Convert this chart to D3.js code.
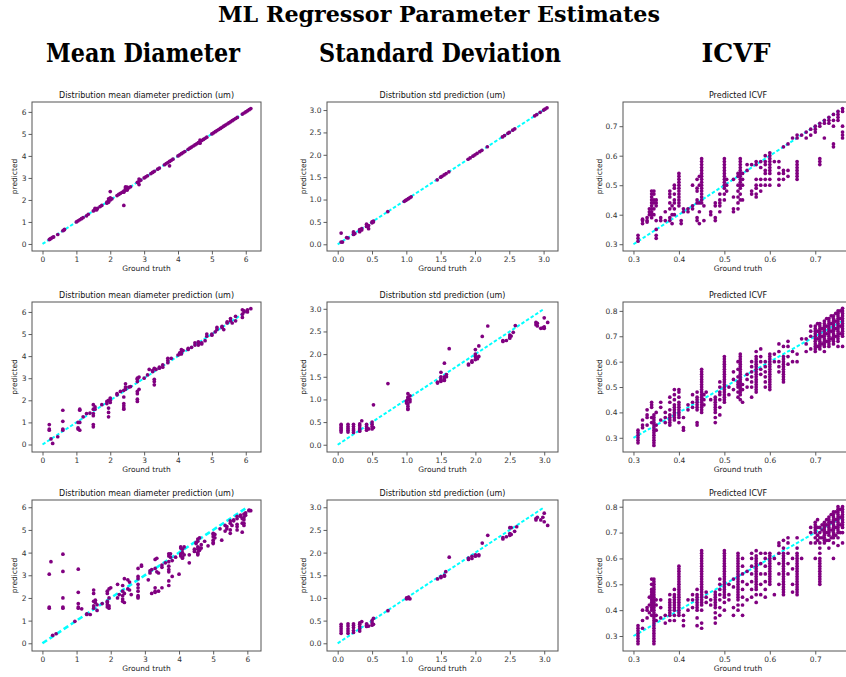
<!DOCTYPE html>
<html><head><meta charset="utf-8">
<script src="https://cdn.jsdelivr.net/npm/d3@7"></script>
<style>body{margin:0;background:#fff}</style>
</head><body><svg id="c" width="846" height="677"></svg>
<script>
// ---------- DATA: groups of [ground truth, [predictions...]] ----------
const md1 = [[0.2,[0.2]],[0.22,[0.22]],[0.25,[0.25]],[0.3,[0.3]],[0.33,[0.32]],[0.45,[0.43]],[0.6,[0.6]],[0.63,[0.63]],[0.65,[0.66]],[1.0,[1.0]],[1.05,[1.05]],[1.1,[1.1]],[1.15,[1.15]],[1.2,[1.2]],[1.3,[1.28]],[1.35,[1.35]],[1.5,[1.5]],[1.55,[1.55,1.62]],[1.58,[1.58]],[1.6,[1.6,1.55]],[1.62,[1.62]],[1.7,[1.7]],[1.75,[1.75]],[1.9,[1.9,1.85]],[1.95,[1.95,1.9,2.05]],[2.0,[2.0,2.1,2.38]],[2.05,[2.05]],[2.2,[2.2]],[2.25,[2.25]],[2.3,[2.3]],[2.35,[2.35]],[2.4,[2.4,2.35,1.75]],[2.45,[2.45,2.6,2.5,2.55]],[2.5,[2.5,2.45,2.58]],[2.55,[2.55]],[2.6,[2.6]],[2.8,[2.8]],[2.85,[2.85,2.95,2.7]],[2.9,[2.9]],[3.0,[3.0]],[3.05,[3.05]],[3.1,[3.1]],[3.2,[3.2]],[3.25,[3.25]],[3.3,[3.3]],[3.4,[3.4]],[3.45,[3.45]],[3.6,[3.6]],[3.65,[3.65]],[3.7,[3.7]],[3.75,[3.75,3.55]],[3.8,[3.8]],[3.85,[3.85]],[4.0,[4.0]],[4.05,[4.05]],[4.1,[4.1]],[4.15,[4.15]],[4.2,[4.2]],[4.3,[4.3]],[4.35,[4.35]],[4.4,[4.4]],[4.45,[4.45]],[4.5,[4.5]],[4.55,[4.55]],[4.6,[4.6]],[4.65,[4.65,4.58,4.72]],[4.7,[4.7]],[4.75,[4.75]],[4.8,[4.8]],[4.85,[4.85]],[5.0,[5.0]],[5.05,[5.05]],[5.1,[5.1]],[5.15,[5.15]],[5.2,[5.2]],[5.25,[5.25]],[5.3,[5.3]],[5.35,[5.35]],[5.4,[5.4]],[5.45,[5.45]],[5.5,[5.5]],[5.55,[5.55]],[5.6,[5.6]],[5.65,[5.65]],[5.7,[5.7]],[5.75,[5.75]],[5.9,[5.9]],[5.95,[5.95]],[6.0,[6.0]],[6.05,[6.05]],[6.1,[6.1]],[6.15,[6.15]]];

const md2 = [[0.2,[0.9,0.7,0.65]],[0.25,[0.25]],[0.3,[0.05]],[0.45,[0.35]],[0.6,[1.55,1.05,0.7,0.65]],[1.05,[1.0,0.75,0.7]],[1.1,[1.6,1.55,1.0,0.65]],[1.2,[1.25]],[1.3,[1.4]],[1.4,[1.42]],[1.5,[1.8,1.6,1.4,1.3,0.9,0.8]],[1.55,[1.7,1.6]],[1.75,[1.8]],[1.9,[1.95,1.85]],[1.95,[2.0,1.65,1.45,1.25]],[2.0,[2.1,2.0,1.9]],[2.2,[2.25,2.3]],[2.3,[2.4]],[2.4,[2.45,2.15,1.85,1.75,1.65,1.6]],[2.45,[2.75,2.6,2.5]],[2.55,[2.6]],[2.6,[2.62]],[2.8,[3.0,2.95,2.85,2.4,2.3,2.05,1.95]],[2.85,[3.05,2.5]],[3.0,[3.0]],[3.1,[3.15]],[3.15,[3.4]],[3.25,[3.35,3.3]],[3.3,[3.45,2.95,2.85,2.7]],[3.35,[3.4]],[3.45,[3.45,3.5]],[3.55,[3.6,3.5]],[3.7,[3.9,3.8,3.7]],[3.8,[3.9]],[4.0,[4.05]],[4.05,[4.1,4.15]],[4.1,[4.3,4.2,4.1]],[4.15,[4.25]],[4.3,[4.3,4.35]],[4.4,[4.4]],[4.5,[4.6,4.5]],[4.6,[4.65,4.6,4.5]],[4.7,[4.6,4.55]],[4.8,[4.7]],[4.85,[5.0,4.9]],[5.0,[5.0,4.95]],[5.1,[5.1]],[5.15,[5.3,5.2]],[5.3,[5.35,5.3]],[5.35,[5.2]],[5.45,[5.55,5.5]],[5.55,[5.7,5.6]],[5.6,[5.5]],[5.7,[5.8,5.6]],[5.9,[6.1,5.9,5.75]],[5.95,[6.05,6.0]],[6.05,[6.1,6.0]],[6.15,[6.15]]];

const md3 = [[0.2,[3.05,1.6,1.55]],[0.25,[3.6]],[0.3,[0.35]],[0.4,[0.42]],[0.6,[3.93,3.17,2.0,1.6,1.55]],[0.95,[0.97]],[1.05,[3.27,2.25,1.75,1.6,1.55]],[1.15,[1.52]],[1.3,[1.27,1.3]],[1.4,[1.27]],[1.5,[2.35,2.2,1.85,1.65,1.55]],[1.55,[1.8,1.9]],[1.6,[1.45,1.7]],[1.75,[1.75]],[1.9,[2.3,2.2,1.85,1.8,1.7,1.6]],[1.95,[2.4,2.0,1.65,1.55]],[2.0,[2.45]],[2.2,[2.6,2.0]],[2.25,[2.15]],[2.35,[2.55,2.3,2.1,1.95,1.85]],[2.4,[2.85,2.2,1.8]],[2.5,[2.8,2.4]],[2.55,[2.7,2.35]],[2.6,[2.15]],[2.8,[3.3,2.95,2.85,2.6,2.45,2.3,2.1,2.05,2.0]],[2.9,[3.45,3.4]],[3.1,[2.8]],[3.15,[3.2,3.1]],[3.2,[2.2,3.25]],[3.3,[3.7,3.3,2.45,2.3,2.25]],[3.35,[3.75,3.15]],[3.4,[3.1,2.3]],[3.5,[3.45,3.35,2.45]],[3.6,[3.55]],[3.7,[3.95,3.85,3.6,3.4,3.25,3.15,2.75,2.55]],[3.75,[3.95,3.8]],[3.8,[2.95,3.65]],[3.9,[3.8]],[4.0,[3.05]],[4.05,[4.25,4.2,3.95,3.9,3.85]],[4.1,[4.15,3.8,3.75,4.0]],[4.15,[4.25,3.9]],[4.3,[3.55,3.9]],[4.45,[4.05,4.15]],[4.5,[4.4,4.45]],[4.55,[4.6,4.5,4.25,4.15,4.0,3.95,3.9]],[4.6,[4.65,4.2,4.1]],[4.65,[4.35,4.2]],[4.75,[4.5]],[4.85,[4.3]],[5.0,[4.85,4.8,4.7,4.55,4.45,4.4]],[5.05,[4.8,4.65]],[5.2,[5.05]],[5.25,[4.55]],[5.35,[4.95,5.2]],[5.4,[5.15,5.05]],[5.5,[5.4,5.3,5.0,4.85]],[5.55,[5.2]],[5.6,[5.45,5.4]],[5.7,[5.6,5.5,5.25,5.15,5.0]],[5.8,[5.6,5.65]],[5.85,[4.9,5.3,5.5]],[5.9,[5.7,5.55,5.45,5.3,5.2]],[5.95,[5.75,5.65]],[6.05,[5.85,5.87]],[6.1,[5.85]]];

const sd1 = [[0.05,[0.05,0.25]],[0.07,[0.05]],[0.13,[0.15]],[0.15,[0.14]],[0.23,[0.28,0.25,0.22]],[0.25,[0.24]],[0.32,[0.33,0.28,0.3]],[0.35,[0.35,0.32]],[0.42,[0.45,0.4]],[0.45,[0.35,0.42]],[0.5,[0.5,0.48]],[0.52,[0.52,0.5]],[0.73,[0.73]],[0.97,[0.96]],[0.99,[0.98]],[1.01,[1.0]],[1.03,[1.02]],[1.05,[1.04]],[1.07,[1.06]],[1.45,[1.44]],[1.5,[1.5]],[1.52,[1.52]],[1.55,[1.55]],[1.58,[1.58]],[1.62,[1.62]],[1.9,[1.9]],[1.93,[1.93]],[1.97,[1.97]],[2.0,[2.0]],[2.03,[2.03]],[2.07,[2.07]],[2.1,[2.1]],[2.18,[2.18]],[2.4,[2.4]],[2.43,[2.43]],[2.48,[2.48]],[2.5,[2.5]],[2.55,[2.55]],[2.58,[2.58]],[2.87,[2.87]],[2.9,[2.9]],[2.95,[2.95]],[3.0,[3.0]],[3.02,[3.02]],[3.05,[3.05]]];

const sd2 = [[0.05,[0.28,0.32,0.35,0.38,0.42,0.45]],[0.15,[0.28,0.32,0.36,0.4,0.45]],[0.23,[0.27,0.31,0.35,0.4,0.45]],[0.32,[0.3,0.33,0.37,0.42,0.46]],[0.35,[0.53]],[0.42,[0.32,0.36,0.4,0.45]],[0.45,[0.35]],[0.5,[0.35,0.4,0.45,0.5]],[0.52,[0.88,0.38]],[0.73,[1.35]],[1.0,[0.97,0.95,0.92]],[1.02,[0.9,0.85,0.8,0.78,1.13,1.05,1.0]],[1.05,[0.95,1.0,1.08]],[1.45,[1.36,1.38]],[1.5,[1.4,1.45,1.5,1.6,1.42]],[1.55,[1.45,1.5,1.8,1.42]],[1.58,[1.55,1.5]],[1.62,[2.12]],[1.9,[1.78,1.76]],[1.95,[1.85,1.82]],[2.0,[2.0,1.95,1.88,2.1]],[2.03,[1.9,1.93]],[2.05,[2.18,1.95]],[2.1,[2.39]],[2.18,[2.62]],[2.4,[2.3,2.28]],[2.45,[2.3]],[2.5,[2.35,2.38,2.42]],[2.52,[2.4]],[2.55,[2.48]],[2.58,[2.63]],[2.88,[2.7,2.65]],[2.9,[2.68,2.62]],[2.95,[2.57]],[2.98,[2.58]],[3.0,[2.8,2.6,2.57]],[3.05,[2.7]]];

const sd3 = [[0.05,[0.22,0.27,0.32,0.37,0.42]],[0.15,[0.22,0.27,0.32,0.38,0.43]],[0.23,[0.24,0.28,0.35,0.4,0.43]],[0.32,[0.27,0.32,0.37,0.42,0.45]],[0.35,[0.48]],[0.42,[0.37,0.4,0.43]],[0.45,[0.38]],[0.5,[0.4,0.45,0.5]],[0.52,[0.55,0.42]],[0.73,[0.72]],[1.0,[0.98,1.0]],[1.03,[1.02,0.99]],[1.05,[0.98]],[1.45,[1.42]],[1.5,[1.47,1.45]],[1.55,[1.48,1.5]],[1.57,[1.58]],[1.62,[1.9]],[1.9,[1.88,1.85]],[1.95,[1.92,1.87]],[2.0,[1.95,1.92]],[2.05,[1.95,1.93]],[2.1,[2.21]],[2.18,[2.38]],[2.4,[2.33,2.3]],[2.45,[2.35]],[2.5,[2.55,2.38,2.42]],[2.52,[2.55,2.4]],[2.57,[2.47]],[2.6,[2.57]],[2.88,[2.75,2.72]],[2.9,[2.78]],[2.95,[2.72]],[2.98,[2.78]],[3.0,[2.87,2.68]],[3.05,[2.6]]];

const icvf1 = [[0.31,[0.31,0.32,0.33]],[0.32,[0.37,0.38,0.385]],[0.33,[0.38,0.375,0.39]],[0.335,[0.4,0.41,0.42]],[0.34,[0.39,0.4,0.41,0.42,0.43,0.44,0.45,0.46,0.47,0.48]],[0.345,[0.44,0.45,0.47,0.48,0.4,0.42]],[0.35,[0.32,0.33,0.35,0.38,0.43,0.45,0.44]],[0.36,[0.38,0.39]],[0.37,[0.41,0.38]],[0.38,[0.38,0.39,0.42,0.44,0.46,0.47,0.48]],[0.385,[0.37,0.4,0.43]],[0.39,[0.4,0.42,0.44,0.45,0.47,0.49,0.5]],[0.4,[0.43,0.44,0.45,0.46,0.47,0.48,0.49,0.5,0.51,0.52,0.53,0.54]],[0.405,[0.37,0.38]],[0.41,[0.41,0.42]],[0.42,[0.41,0.42]],[0.43,[0.42,0.43,0.5]],[0.44,[0.38,0.39,0.44,0.45,0.48,0.49,0.52]],[0.445,[0.37,0.41,0.44,0.5,0.53]],[0.45,[0.44,0.45,0.46,0.47,0.48,0.49,0.5,0.51,0.52,0.53,0.54,0.55,0.56,0.57,0.58,0.59]],[0.455,[0.38,0.43]],[0.47,[0.4,0.41]],[0.48,[0.38,0.39,0.43,0.44]],[0.49,[0.41,0.43,0.44,0.45,0.47]],[0.5,[0.45,0.47,0.49,0.5,0.51,0.52,0.53,0.54,0.55,0.56,0.57,0.58,0.59]],[0.505,[0.48,0.5,0.52]],[0.52,[0.52,0.41,0.42,0.46]],[0.53,[0.42,0.44,0.46,0.48,0.5,0.53,0.54]],[0.535,[0.45,0.47,0.49,0.5,0.51,0.52,0.53,0.54,0.55,0.56,0.57,0.58,0.59]],[0.54,[0.45,0.5,0.52,0.54]],[0.55,[0.55,0.57]],[0.56,[0.57,0.47,0.48]],[0.57,[0.46,0.47,0.49,0.5,0.52,0.57,0.58]],[0.58,[0.48,0.5,0.52,0.56,0.58]],[0.59,[0.5,0.52,0.54,0.55,0.57,0.58,0.6]],[0.6,[0.5,0.52,0.54,0.55,0.56,0.57,0.58,0.59,0.6,0.61]],[0.61,[0.58]],[0.62,[0.5,0.52,0.54,0.56,0.58]],[0.63,[0.52,0.54,0.55,0.63]],[0.64,[0.53,0.55,0.64]],[0.65,[0.66]],[0.66,[0.52,0.53,0.54,0.55,0.56,0.57,0.58,0.66,0.67]],[0.67,[0.67]],[0.68,[0.68,0.66]],[0.69,[0.69,0.67]],[0.7,[0.7,0.68,0.69]],[0.71,[0.71,0.57,0.58,0.59,0.7]],[0.72,[0.72,0.71,0.66]],[0.73,[0.73,0.71,0.72]],[0.74,[0.74,0.72,0.63,0.64,0.7]],[0.75,[0.75,0.74,0.72,0.73]],[0.76,[0.76,0.75,0.7,0.66,0.67,0.68]]];

const icvf2 = [[0.31,[0.28,0.29,0.3,0.31,0.32,0.33]],[0.32,[0.34,0.35,0.37]],[0.33,[0.35,0.38,0.39,0.41]],[0.34,[0.36,0.38,0.42,0.43,0.44]],[0.345,[0.27,0.28,0.29,0.3,0.31,0.32,0.33,0.34,0.35,0.36,0.37,0.38,0.39]],[0.35,[0.33,0.35,0.4]],[0.36,[0.37,0.42,0.44]],[0.37,[0.36,0.38,0.4]],[0.38,[0.35,0.36,0.37,0.38,0.39,0.41,0.44,0.46]],[0.39,[0.37,0.38,0.39,0.4,0.41,0.42,0.43,0.45,0.47,0.49]],[0.4,[0.36,0.38,0.39,0.4,0.41,0.42,0.43,0.44,0.46,0.48,0.49]],[0.41,[0.33,0.34,0.38]],[0.42,[0.41,0.43]],[0.43,[0.42,0.47,0.44]],[0.44,[0.35,0.36,0.41,0.42,0.43,0.44,0.45,0.46,0.48]],[0.45,[0.4,0.41,0.42,0.43,0.44,0.45,0.46,0.47,0.48,0.49,0.5,0.51,0.52,0.53,0.54,0.55,0.56,0.57]],[0.455,[0.43,0.45,0.47]],[0.46,[0.48]],[0.47,[0.45]],[0.48,[0.36,0.38,0.4,0.41,0.42,0.43,0.44,0.45,0.46]],[0.49,[0.39,0.42,0.45,0.47,0.48,0.5,0.52]],[0.5,[0.44,0.45,0.46,0.47,0.48,0.49,0.5,0.51,0.52,0.53,0.54,0.55,0.56,0.57,0.58,0.59,0.6,0.61,0.62]],[0.51,[0.47,0.5]],[0.52,[0.49,0.53,0.56]],[0.53,[0.46,0.48,0.5,0.51,0.52,0.54,0.57,0.6]],[0.535,[0.45,0.47,0.48,0.49,0.5,0.51,0.52,0.53,0.54,0.55,0.56,0.57,0.58,0.59,0.6,0.61,0.62,0.63]],[0.54,[0.44,0.49,0.51]],[0.55,[0.5,0.53,0.55]],[0.56,[0.46,0.5,0.52,0.54,0.56,0.58,0.6]],[0.57,[0.48,0.49,0.5,0.51,0.52,0.53,0.54,0.55,0.56,0.57,0.58,0.59,0.6,0.61,0.62,0.64]],[0.58,[0.55,0.57,0.6,0.62,0.65]],[0.59,[0.5,0.52,0.54,0.56,0.58,0.6]],[0.6,[0.49,0.5,0.51,0.52,0.53,0.54,0.55,0.56,0.57,0.58,0.59,0.6,0.61,0.62,0.63]],[0.61,[0.6,0.63]],[0.62,[0.56,0.58,0.6,0.64,0.67]],[0.63,[0.52,0.53,0.54,0.55,0.56,0.57,0.58,0.59,0.6,0.61,0.62,0.66]],[0.64,[0.59,0.62,0.66,0.68]],[0.65,[0.6,0.64]],[0.66,[0.6,0.63]],[0.67,[0.69]],[0.68,[0.64,0.67,0.69]],[0.69,[0.65,0.7,0.72,0.74]],[0.7,[0.64,0.65,0.66,0.67,0.68,0.69,0.7,0.71,0.72,0.73,0.74]],[0.705,[0.66,0.69,0.72,0.75]],[0.71,[0.65,0.66,0.67,0.68,0.69,0.7,0.71,0.72,0.73,0.74,0.75]],[0.715,[0.67,0.7,0.73]],[0.72,[0.64,0.66,0.67,0.68,0.69,0.7,0.71,0.72,0.73,0.74,0.75,0.76]],[0.725,[0.68,0.71,0.74,0.77]],[0.73,[0.66,0.67,0.68,0.69,0.7,0.71,0.72,0.73,0.74,0.75,0.76,0.77]],[0.735,[0.69,0.72,0.75,0.78]],[0.74,[0.67,0.68,0.69,0.7,0.71,0.72,0.73,0.74,0.75,0.76,0.77,0.78]],[0.745,[0.7,0.73,0.76,0.79]],[0.75,[0.66,0.68,0.69,0.7,0.71,0.72,0.73,0.74,0.75,0.76,0.77,0.78,0.79,0.8]],[0.755,[0.71,0.74,0.77,0.8]],[0.76,[0.66,0.7,0.71,0.72,0.73,0.74,0.75,0.76,0.77,0.78,0.79,0.8,0.81]]];

const icvf3 = [[0.31,[0.27,0.28,0.29,0.3,0.31,0.32,0.33,0.34]],[0.32,[0.33,0.36,0.4]],[0.33,[0.37,0.4,0.41]],[0.335,[0.39,0.42,0.45]],[0.34,[0.38,0.4,0.41,0.42,0.43,0.44,0.45,0.46,0.47,0.48,0.5,0.52]],[0.345,[0.27,0.28,0.29,0.3,0.31,0.32,0.33,0.34,0.35,0.36,0.37,0.38,0.39,0.4,0.41,0.42,0.43,0.44,0.45,0.46,0.47,0.48,0.49,0.5,0.51,0.52]],[0.35,[0.36,0.38,0.42,0.44]],[0.36,[0.37,0.41,0.44]],[0.37,[0.35,0.38]],[0.38,[0.36,0.38,0.39,0.4,0.41,0.42,0.43,0.44,0.46]],[0.39,[0.36,0.38,0.4,0.41,0.42,0.43,0.44,0.45,0.46,0.48]],[0.4,[0.38,0.39,0.4,0.41,0.42,0.43,0.44,0.45,0.46,0.47,0.48,0.49,0.5,0.51,0.52,0.53,0.54,0.55,0.56,0.57]],[0.41,[0.34,0.36,0.38]],[0.42,[0.44,0.4]],[0.43,[0.41,0.44,0.46]],[0.44,[0.34,0.37,0.4,0.41,0.42,0.43,0.44,0.45,0.46,0.48]],[0.45,[0.33,0.35,0.4,0.42,0.43,0.44,0.45,0.46,0.47,0.48,0.49,0.5,0.51,0.52,0.53,0.54,0.55,0.56,0.57,0.58,0.59,0.6,0.61,0.62,0.63]],[0.46,[0.43,0.45,0.47]],[0.47,[0.42,0.44]],[0.48,[0.35,0.37,0.39,0.41,0.42,0.43,0.44,0.45,0.46,0.47]],[0.49,[0.38,0.41,0.44,0.46,0.48,0.5,0.52]],[0.5,[0.4,0.43,0.45,0.46,0.47,0.48,0.49,0.5,0.51,0.52,0.53,0.54,0.55,0.56,0.57,0.58,0.59,0.6,0.61,0.62,0.63]],[0.51,[0.44,0.46,0.5]],[0.52,[0.38,0.41,0.49,0.52]],[0.53,[0.4,0.42,0.44,0.45,0.46,0.47,0.48,0.49,0.5,0.51,0.52,0.53,0.54,0.55,0.56,0.57,0.58,0.59,0.6,0.61,0.62]],[0.54,[0.38,0.42,0.45,0.48,0.51,0.54,0.57,0.6]],[0.55,[0.44,0.5,0.55]],[0.56,[0.45,0.48,0.51,0.54,0.57,0.6,0.62]],[0.57,[0.43,0.46,0.48,0.49,0.5,0.51,0.52,0.53,0.54,0.55,0.56,0.57,0.58,0.59,0.6,0.61,0.63]],[0.58,[0.46,0.5,0.54,0.58,0.62]],[0.59,[0.45,0.48,0.51,0.54,0.57,0.6,0.62]],[0.6,[0.5,0.51,0.52,0.53,0.54,0.55,0.56,0.57,0.58,0.59,0.6,0.61,0.62]],[0.61,[0.46,0.6]],[0.62,[0.5,0.54,0.58,0.62,0.65,0.66]],[0.63,[0.46,0.47,0.48,0.49,0.5,0.51,0.52,0.53,0.54,0.55,0.56,0.57,0.58,0.59,0.6,0.61,0.62,0.64,0.67]],[0.64,[0.54,0.58,0.62,0.66,0.68]],[0.65,[0.47,0.5,0.56,0.6]],[0.66,[0.46,0.47,0.48,0.49,0.5,0.51,0.52,0.53,0.54,0.55,0.56,0.57,0.58,0.59,0.6,0.61,0.62,0.64,0.68]],[0.67,[0.6]],[0.69,[0.66,0.7,0.72]],[0.7,[0.6,0.66,0.68,0.7,0.71,0.72,0.73,0.74]],[0.705,[0.67,0.69,0.72,0.75]],[0.71,[0.5,0.51,0.52,0.53,0.54,0.55,0.56,0.57,0.58,0.59,0.6,0.62,0.64,0.66,0.68,0.7,0.72]],[0.715,[0.68,0.71,0.73]],[0.72,[0.66,0.67,0.68,0.69,0.7,0.71,0.72,0.73,0.74]],[0.725,[0.67,0.7,0.73,0.75]],[0.73,[0.64,0.67,0.69,0.7,0.71,0.72,0.73,0.74,0.75,0.76]],[0.735,[0.68,0.71,0.74,0.77]],[0.74,[0.6,0.66,0.68,0.69,0.7,0.71,0.72,0.73,0.74,0.75,0.76,0.77,0.78]],[0.745,[0.69,0.72,0.75,0.78]],[0.75,[0.65,0.68,0.7,0.71,0.72,0.73,0.74,0.75,0.76,0.77,0.78,0.79,0.8]],[0.755,[0.7,0.73,0.76,0.79]],[0.76,[0.66,0.7,0.72,0.73,0.74,0.75,0.76,0.77,0.78,0.79,0.8]]];

// tick labels
const mdTicks = [0,1,2,3,4,5,6];
const sdTicks = [0.0,0.5,1.0,1.5,2.0,2.5,3.0];
const icvfXTicks = [0.3,0.4,0.5,0.6,0.7];
const icvfYTicks7 = [0.3,0.4,0.5,0.6,0.7];
const icvfYTicks8 = [0.3,0.4,0.5,0.6,0.7,0.8];

const mainTitle = "ML Regressor Parameter Estimates";
const colHeaders = ["Mean Diameter","Standard Deviation","ICVF"];
const subTitles = ["Distribution mean diameter prediction (um)","Distribution std prediction (um)","Predicted ICVF"];

// ---------- LAYOUT ----------
const colX = [[32,261],[327,558],[623,853]];
const rowY = [[102,251],[302,452],[500,651]];
const ylabOffset = [15,21,21];

const panels = [
  {r:0,c:0,d:md1,ln:[0,6.17],xd:[-0.31,6.45],yd:[-0.32,6.45],xt:mdTicks,yt:mdTicks,f:d3.format("d"),dash:"3.5,2",lw:2},
  {r:0,c:1,d:sd1,ln:[0,3.05],xd:[-0.156,3.21],yd:[-0.15,3.18],xt:sdTicks,yt:sdTicks,f:d3.format(".1f"),dash:"3.5,2",lw:2},
  {r:0,c:2,d:icvf1,ln:[0.3,0.76],xd:[0.277,0.783],yd:[0.277,0.782],xt:icvfXTicks,yt:icvfYTicks7,f:d3.format(".1f"),dash:"3.5,2",lw:2},
  {r:1,c:0,d:md2,ln:[0,6.15],xd:[-0.31,6.45],yd:[-0.34,6.45],xt:mdTicks,yt:mdTicks,f:d3.format("d"),dash:"3.5,2",lw:2},
  {r:1,c:1,d:sd2,ln:[0,3.0],xd:[-0.155,3.2],yd:[-0.16,3.15],xt:sdTicks,yt:sdTicks,f:d3.format(".1f"),dash:"3.5,2",lw:2},
  {r:1,c:2,d:icvf2,ln:[0.3,0.76],xd:[0.277,0.783],yd:[0.244,0.835],xt:icvfXTicks,yt:icvfYTicks8,f:d3.format(".1f"),dash:"3.5,2",lw:2},
  {r:2,c:0,d:md3,ln:[0,6.0],xd:[-0.305,6.4],yd:[-0.34,6.32],xt:mdTicks,yt:mdTicks,f:d3.format("d"),dash:"5.5,3",lw:2.6},
  {r:2,c:1,d:sd3,ln:[0,3.0],xd:[-0.155,3.2],yd:[-0.17,3.16],xt:sdTicks,yt:sdTicks,f:d3.format(".1f"),dash:"3.5,2",lw:2},
  {r:2,c:2,d:icvf3,ln:[0.3,0.76],xd:[0.277,0.783],yd:[0.242,0.826],xt:icvfXTicks,yt:icvfYTicks8,f:d3.format(".1f"),dash:"3.5,2",lw:2}
];

const svg = d3.select("#c");
const FONT = "'DejaVu Sans', sans-serif";
const SERIF = "'DejaVu Serif', 'Liberation Serif', serif";

function fitText(sel, w){ sel.attr("textLength", w).attr("lengthAdjust","spacingAndGlyphs"); }

svg.append("text").attr("x",439).attr("y",22).attr("text-anchor","middle")
  .style("font-family",SERIF).style("font-weight","bold").style("font-size","22px").attr("fill","#000")
  .text(mainTitle).call(fitText, 442);

const headerPos = [[143,194],[440,242],[736,69]];
colHeaders.forEach((h,i)=>{
  svg.append("text").attr("x",headerPos[i][0]).attr("y",62).attr("text-anchor","middle")
    .style("font-family",SERIF).style("font-weight","bold").style("font-size","26px").attr("fill","#000")
    .text(h).call(fitText, headerPos[i][1]);
});

panels.forEach(p=>{
  const [x0,x1] = colX[p.c], [y0,y1] = rowY[p.r];
  const x = d3.scaleLinear().domain(p.xd).range([x0,x1]);
  const y = d3.scaleLinear().domain(p.yd).range([y1,y0]);
  const g = svg.append("g");
  const pts = [];
  p.d.forEach(([gt,ps])=>ps.forEach(v=>pts.push([gt,v])));

  g.append("line").attr("x1",x(p.ln[0])).attr("y1",y(p.ln[0])).attr("x2",x(p.ln[1])).attr("y2",y(p.ln[1]))
    .attr("stroke","#00ffff").attr("stroke-width",p.lw).attr("stroke-dasharray",p.dash);
  g.selectAll("circle.pt").data(pts).join("circle").attr("class","pt")
    .attr("cx",d=>x(d[0])).attr("cy",d=>y(d[1])).attr("r",1.85).attr("fill","#800080");

  const ax = g.append("g").attr("transform",`translate(0,${y1})`)
    .call(d3.axisBottom(x).tickValues(p.xt).tickFormat(p.f).tickSize(3.5).tickPadding(2));
  const ay = g.append("g").attr("transform",`translate(${x0},0)`)
    .call(d3.axisLeft(y).tickValues(p.yt).tickFormat(p.f).tickSize(3.5).tickPadding(2));
  [ax,ay].forEach(a=>{
    a.select(".domain").remove();
    a.selectAll("line").attr("stroke","#333").attr("stroke-width",0.8);
    a.selectAll("text").attr("fill","#333").style("font-family",FONT).style("font-size","7.5px");
  });
  g.append("rect").attr("x",x0).attr("y",y0).attr("width",x1-x0).attr("height",y1-y0)
    .attr("fill","none").attr("stroke","#555").attr("stroke-width",1);

  g.append("text").attr("x",(x0+x1)/2).attr("y",y0-4).attr("text-anchor","middle")
    .style("font-family",FONT).style("font-size","8px").attr("fill","#111").text(subTitles[p.c]);
  g.append("text").attr("x",(x0+x1)/2).attr("y",y1+20).attr("text-anchor","middle")
    .style("font-family",FONT).style("font-size","7.5px").attr("fill","#222").text("Ground truth");
  g.append("text").attr("transform",`translate(${x0-ylabOffset[p.c]},${(y0+y1)/2}) rotate(-90)`).attr("text-anchor","middle")
    .style("font-family",FONT).style("font-size","7.5px").attr("fill","#222").text("predicted");
});
</script>
</body></html>
